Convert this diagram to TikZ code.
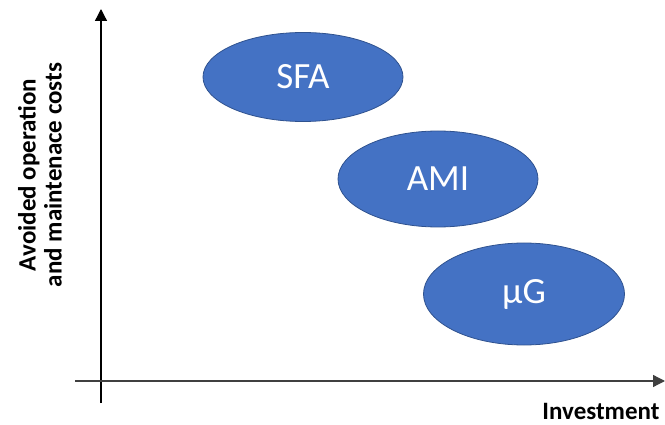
\documentclass[tikz,border=0pt]{standalone}
\usepackage{fontspec}
\setmainfont{Carlito}
\usetikzlibrary{shapes.geometric,arrows.meta}
\definecolor{blobfill}{HTML}{4472C4}
\definecolor{blobdraw}{HTML}{2F528F}
\tikzset{
  blob/.style={ellipse, fill=blobfill, draw=blobdraw, line width=0.8pt, inner sep=0pt,
    text=white, font=\fontsize{37}{42}\selectfont},
  axis/.style={line width=1.3pt, -{Triangle[length=12pt,width=12pt]}},
  axlabel/.style={font=\bfseries\fontsize{25}{26}\selectfont, align=center}
}
\begin{document}
\begin{tikzpicture}[x=1pt,y=-1pt]
\useasboundingbox (0,0) rectangle (665,425);
\coordinate (ybot) at (101,403);
\coordinate (ytop) at (101,9);
\coordinate (xl) at (75,381);
\coordinate (xr) at (665,381);
\draw[axis] (ybot) -- (ytop);
\draw[axis, draw=black!75] (xl) -- (xr);
\node[blob, minimum width=200pt, minimum height=89pt] (sfa) at (303,77) {SFA};
\node[blob, minimum width=200pt, minimum height=96pt] (ami) at (438,179) {AMI};
\node[blob, minimum width=201pt, minimum height=102pt] (ug) at (524,294) {μG};
\node[axlabel, rotate=90] (ylab) at (40,175) {Avoided operation\\and maintenace costs};
\node[axlabel, anchor=east] (xlab) at (663,411) {Investment};
\end{tikzpicture}
\end{document}
